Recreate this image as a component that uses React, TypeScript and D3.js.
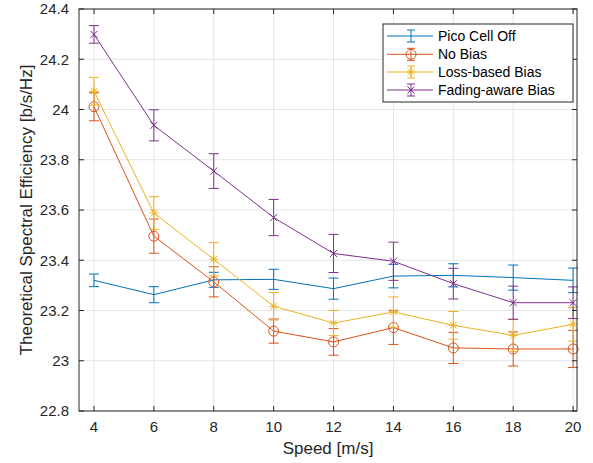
import React from "react";
import * as d3 from "d3";

const speeds = [4, 6, 8, 10, 12, 14, 16, 18, 20];
const picoOff = [23.32, 23.263, 23.322, 23.324, 23.287, 23.337, 23.34, 23.331, 23.32];
const picoOffErr = [0.025, 0.032, 0.03, 0.04, 0.042, 0.047, 0.046, 0.05, 0.049];
const noBias = [24.011, 23.496, 23.314, 23.118, 23.075, 23.132, 23.051, 23.047, 23.047];
const noBiasErr = [0.056, 0.068, 0.06, 0.048, 0.053, 0.067, 0.062, 0.068, 0.074];
const lossBias = [24.073, 23.588, 23.404, 23.217, 23.15, 23.194, 23.141, 23.101, 23.145];
const lossBiasErr = [0.055, 0.065, 0.066, 0.055, 0.05, 0.06, 0.055, 0.064, 0.067];
const fadingBias = [24.299, 23.937, 23.755, 23.57, 23.427, 23.396, 23.307, 23.231, 23.231];
const fadingBiasErr = [0.035, 0.062, 0.069, 0.072, 0.076, 0.076, 0.061, 0.066, 0.063];

const xTicks = [4, 6, 8, 10, 12, 14, 16, 18, 20];
const yTicks = [22.8, 23, 23.2, 23.4, 23.6, 23.8, 24, 24.2, 24.4];

const seriesNames = ["Pico Cell Off", "No Bias", "Loss-based Bias", "Fading-aware Bias"];
const seriesColors = ["#0072BD", "#D95319", "#EDB120", "#7E2F8E"];
const seriesMarkers = ["none", "circle", "star", "x"];

const W = 593, H = 463;
const L = 79, R = 577, T = 9, B = 411;
const FONT = "'Liberation Sans', Arial, Helvetica, sans-serif";

function Marker({ type, x, y, color }: { type: string; x: number; y: number; color: string }) {
  if (type === "circle") return <circle cx={x} cy={y} r={5} fill="none" stroke={color} strokeWidth={1} />;
  if (type === "x") {
    const s = 3.6;
    return <path d={`M${x - s},${y - s}L${x + s},${y + s}M${x - s},${y + s}L${x + s},${y - s}`} stroke={color} strokeWidth={1} />;
  }
  if (type === "star") {
    const s = 4.5, d = 3.3;
    return <path d={`M${x - s},${y}L${x + s},${y}M${x},${y - s}L${x},${y + s}M${x - d},${y - d}L${x + d},${y + d}M${x - d},${y + d}L${x + d},${y - d}`} stroke={color} strokeWidth={1} />;
  }
  return null;
}

export default function App() {
  const x = d3.scaleLinear().domain([3.5, 20.13]).range([L, R]);
  const y = d3.scaleLinear().domain([22.8, 24.4]).range([B, T]);
  const series = [
    { v: picoOff, e: picoOffErr },
    { v: noBias, e: noBiasErr },
    { v: lossBias, e: lossBiasErr },
    { v: fadingBias, e: fadingBiasErr },
  ];
  const line = d3.line<number>().x((_, i) => x(speeds[i])).y((d) => y(d));
  const cap = 5;
  const axisColor = "#262626";

  const legX = 383, legY = 24, legW = 190, legH = 78;
  const rowY = [36, 54.3, 72, 90];

  return (
    <svg width={W} height={H} style={{ display: "block", position: "absolute", left: 0, top: 0 }} fontFamily={FONT}>
      <rect x={0} y={0} width={W} height={H} fill="#fff" />
      <rect x={L} y={T} width={R - L} height={B - T} fill="#fff" />
      {xTicks.map((t) => (
        <line key={"gx" + t} x1={x(t)} x2={x(t)} y1={T} y2={B} stroke="#e5e5e5" strokeWidth={1} />
      ))}
      {yTicks.map((t) => (
        <line key={"gy" + t} x1={L} x2={R} y1={y(t)} y2={y(t)} stroke="#e5e5e5" strokeWidth={1} />
      ))}
      {series.map((s, si) => (
        <g key={si}>
          <path d={line(s.v) || ""} fill="none" stroke={seriesColors[si]} strokeWidth={1} />
          {s.v.map((v, i) => {
            const cx = x(speeds[i]);
            const y1 = y(v + s.e[i]);
            const y2 = y(v - s.e[i]);
            return (
              <g key={i}>
                <path
                  d={`M${cx},${y1}L${cx},${y2}M${cx - cap},${y1}L${cx + cap},${y1}M${cx - cap},${y2}L${cx + cap},${y2}`}
                  stroke={seriesColors[si]}
                  strokeWidth={1}
                  fill="none"
                />
                <Marker type={seriesMarkers[si]} x={cx} y={y(v)} color={seriesColors[si]} />
              </g>
            );
          })}
        </g>
      ))}
      <rect x={L} y={T} width={R - L} height={B - T} fill="none" stroke={axisColor} strokeWidth={1} />
      {xTicks.map((t) => (
        <g key={"tx" + t}>
          <line x1={x(t)} x2={x(t)} y1={B} y2={B - 5} stroke={axisColor} />
          <line x1={x(t)} x2={x(t)} y1={T} y2={T + 5} stroke={axisColor} />
          <text x={x(t)} y={431.5} textAnchor="middle" fontSize={15} fill={axisColor}>{t}</text>
        </g>
      ))}
      {yTicks.map((t) => (
        <g key={"ty" + t}>
          <line x1={L} x2={L + 5} y1={y(t)} y2={y(t)} stroke={axisColor} />
          <line x1={R} x2={R - 5} y1={y(t)} y2={y(t)} stroke={axisColor} />
          <text x={69} y={y(t) + 5.3} textAnchor="end" fontSize={15} fill={axisColor}>{d3.format("~g")(t)}</text>
        </g>
      ))}
      <text x={(L + R) / 2} y={454} textAnchor="middle" fontSize={17} fill={axisColor}>Speed [m/s]</text>
      <text transform={`translate(32,${(T + B) / 2}) rotate(-90)`} textAnchor="middle" fontSize={17} fill={axisColor}>
        Theoretical Spectral Efficiency [b/s/Hz]
      </text>
      <rect x={legX} y={legY} width={legW} height={legH} fill="#fff" stroke={axisColor} strokeWidth={1} />
      {seriesNames.map((n, si) => {
        const ly = rowY[si];
        const mx = 411;
        return (
          <g key={n}>
            <line x1={387} x2={433} y1={ly} y2={ly} stroke={seriesColors[si]} />
            <path
              d={`M${mx},${ly - 6}L${mx},${ly + 6}M${mx - 4},${ly - 6}L${mx + 4},${ly - 6}M${mx - 4},${ly + 6}L${mx + 4},${ly + 6}`}
              stroke={seriesColors[si]}
              fill="none"
            />
            <Marker type={seriesMarkers[si]} x={mx} y={ly} color={seriesColors[si]} />
            <text x={438} y={ly + 5} fontSize={14} fill="#000">{n}</text>
          </g>
        );
      })}
    </svg>
  );
}
